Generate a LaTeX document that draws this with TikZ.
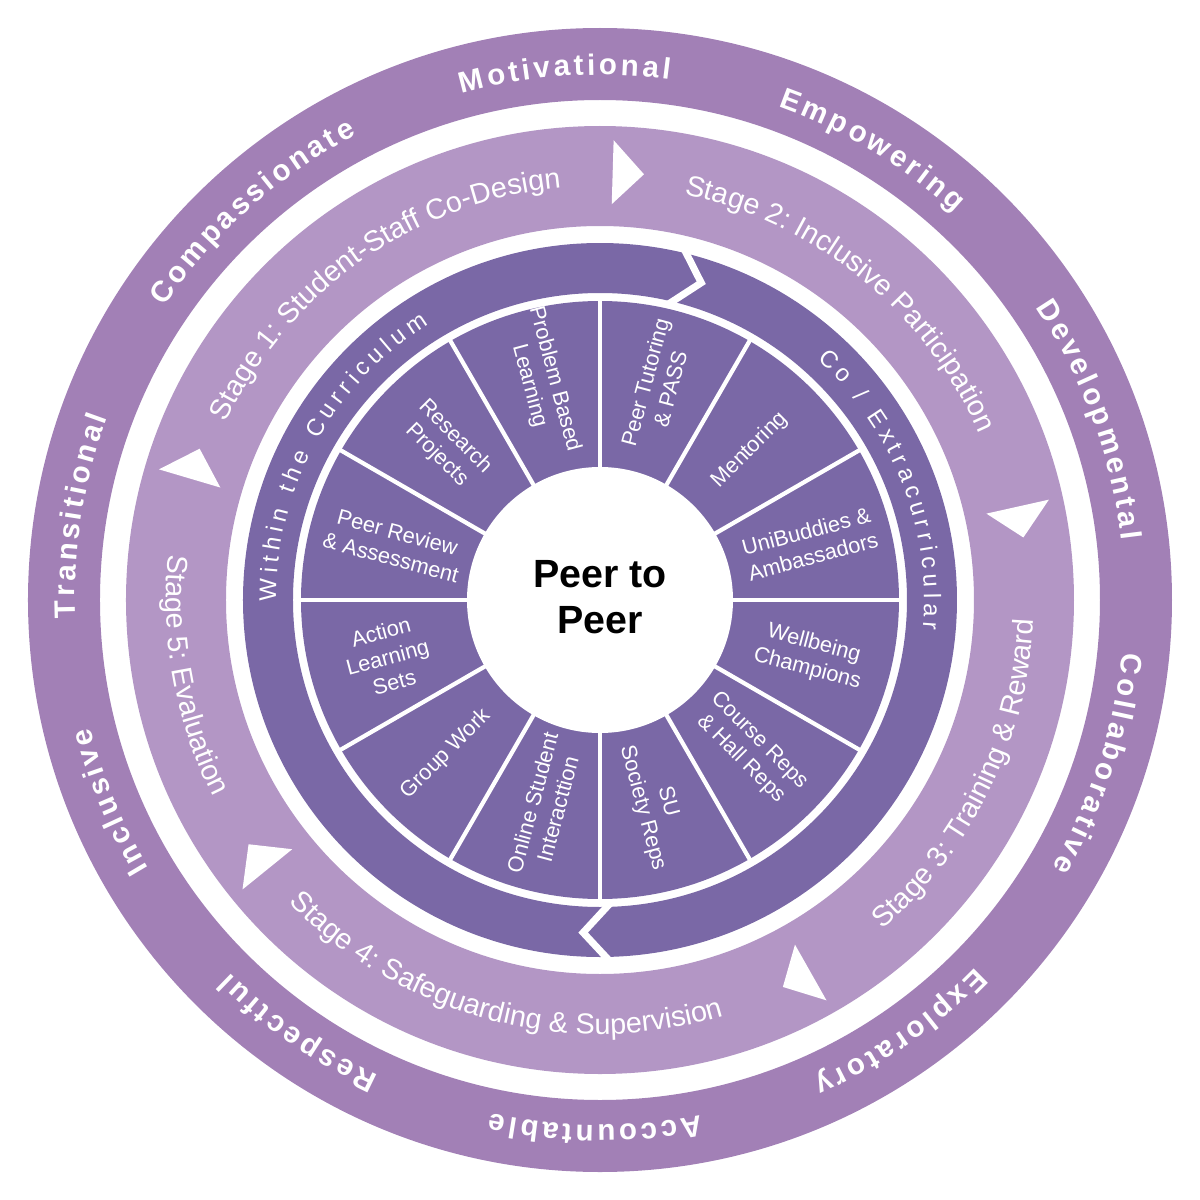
\documentclass[tikz,border=0pt]{standalone}
\usepackage{fontspec}
\setmainfont{Liberation Sans}
\usetikzlibrary{decorations.text}

\definecolor{outerring}{RGB}{162,128,182}
\definecolor{stagering}{RGB}{179,150,197}
\definecolor{innerring}{RGB}{122,104,166}

\newcommand\wordfont{\fontsize{21}{24}\selectfont\bfseries}
\newcommand\stagefont{\fontsize{20.5}{24}\selectfont}
\newcommand\trackfont{\fontsize{17}{20}\selectfont}
\newcommand\segfont{\fontsize{15.5}{18.5}\selectfont}

\tikzset{
  value/.style={decorate, decoration={text along path, text align=center,
      text={|\wordfont\color{white}\kern2.4pt|#1}}},
  track/.style={decorate, decoration={text along path, text align=center,
      text={|\trackfont\color{white}\kern3.6pt|#1}}},
  stage/.style={decorate, decoration={text along path, text align=center,
      text={|\stagefont\color{white}|#1}}},
  seg/.style={text=white, font=\segfont, align=center}
}

\begin{document}
\begin{tikzpicture}[x=0.25mm, y=0.25mm]
\useasboundingbox (-600,-600) rectangle (600,600);

% rings
\fill[outerring, even odd rule] (0,0) circle[radius=572] (0,0) circle[radius=500];
\fill[stagering, even odd rule] (0,0) circle[radius=474] (0,0) circle[radius=374];
\fill[innerring, even odd rule] (0,0) circle[radius=357] (0,0) circle[radius=307];
\fill[innerring] (0,0) circle[radius=299];

\foreach \a in {0,30,...,330}
  \draw[white, line width=3pt] (0,0) -- (\a:305);
\fill[white] (0,0) circle[radius=133];

% arrow joints in the inner ring
\draw[white, line width=5pt] (77.7:370) -- (72.3:333) -- (77.3:302);
\draw[white, line width=5pt] (-87.8:302) -- (-92.9:333) -- (-87.8:366);

% stage arrows
\foreach \b in {88.3,12.6,-60.5,219,163.5}
  \fill[white] (\b:396) -- (\b:460) -- (\b-4.2:428) -- cycle;

% values
\foreach \w/\c in {Motivational/94, Empowering/59, Developmental/20.4, Collaborative/-18,
    Exploratory/-55, Accountable/-90.3, Respectful/-124.7, Inclusive/-157.4,
    Transitional/171, Compassionate/132}
  \path[value/.expanded=\w] (\c+60:525) arc[start angle=\c+60, end angle=\c-60, radius=525];

% stages
\path[stage={Stage 1: Student-Staff Co-Design}] (185:414) arc[start angle=185, end angle=65, radius=414];
\path[stage={Stage 2: Inclusive Participation}] (111:414) arc[start angle=111, end angle=-9, radius=414];
\path[stage={Stage 3: Training {\&} Reward}] (-86:434) arc[start angle=-86, end angle=34, radius=434];
\path[stage={Stage 4: Safeguarding {\&} Supervision}] (-164.6:434) arc[start angle=-164.6, end angle=-44.6, radius=434];
\path[stage={Stage 5: Evaluation}] (130.5:434) arc[start angle=130.5, end angle=250.5, radius=434];

% inner ring
\path[track={Within the Curriculum}] (211.5:324) arc[start angle=211.5, end angle=91.5, radius=324];
\path[track={Co / Extracurricular}] (81.8:324) arc[start angle=81.8, end angle=-38.2, radius=324];

% segments
\node[seg, rotate=-75] (pbl) at (105:225) {Problem Based\\Learning};
\node[seg, rotate=75] (ptp) at (75:222) {Peer Tutoring\\\& PASS};
\node[seg, rotate=45] (men) at (45:212) {Mentoring};
\node[seg, rotate=15] (uni) at (15:217) {UniBuddies \&\\Ambassadors};
\node[seg, rotate=-15] (wel) at (-15:218) {Wellbeing\\Champions};
\node[seg, rotate=-45] (crs) at (-45:212) {Course Reps\\\& Hall Reps};
\node[seg, rotate=-75] (su) at (-75:212) {SU\\Society Reps};
\node[seg, rotate=75] (onl) at (255:213) {Online Student\\Interacttion};
\node[seg, rotate=45] (grp) at (225:218) {Group Work};
\node[seg, rotate=15] (act) at (195:220) {Action\\Learning\\Sets};
\node[seg, rotate=-15] (prv) at (165:213) {Peer Review\\\& Assessment};
\node[seg, rotate=-45] (res) at (135:218) {Research\\Projects};

\node[font=\fontsize{28}{33}\selectfont\bfseries, align=center] (core) at (0,3) {Peer to\\Peer};
\end{tikzpicture}
\end{document}
